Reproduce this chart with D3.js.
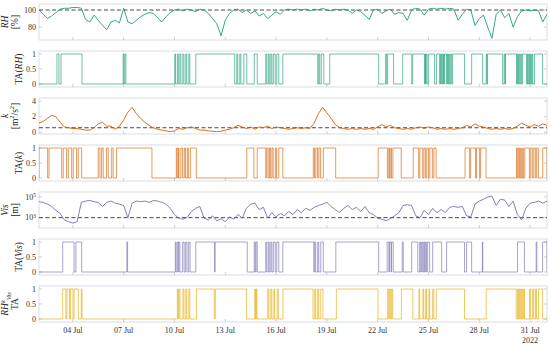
<!DOCTYPE html>
<html>
<head>
<meta charset="utf-8">
<script src="https://cdn.jsdelivr.net/npm/d3@7"></script>
<style>
  body { margin: 0; background: #fff; }
  svg { font-family: "Liberation Serif", "DejaVu Serif", serif; }
</style>
</head>
<body>
<svg id="chart" width="550" height="345"></svg>
<script>
// Series sampled every 6 hours from 02 Jul 2022 00:00
const stepHours = 6;

const rhValues = [
  100, 95, 90, 93, 97, 101, 102, 102, 103, 103, 102, 89, 86, 94, 88, 82, 77, 86, 88, 85, 102, 86, 84, 88,
  92, 95, 97, 96, 91, 86, 92, 97, 100, 101, 99, 101, 100, 98, 101, 100, 96, 90, 84, 70, 88, 96,
  100, 101, 97, 100, 96, 99, 93, 96, 90, 94, 98, 95, 100, 101, 100, 101, 100, 101, 99, 101, 100, 102,
  100, 99, 101, 100, 101, 100, 96, 100, 98, 94, 89, 100, 101, 96, 99, 101, 95,
  97, 96, 88, 100, 102, 101, 94, 101, 102, 101, 102, 101, 102, 101, 88, 95, 101, 100, 82, 90,
  94, 80, 67, 95, 100, 91, 96, 80, 92, 99, 100, 99, 100, 99, 86, 95
];

const kValues = [
  1.2, 1.4, 1.8, 2.2, 2.0, 1.3, 0.7, 0.6, 0.5, 0.5, 0.4, 0.3, 0.3, 0.6, 1.1, 1.3, 0.8, 0.8, 0.4, 0.8, 1.6, 2.6, 3.2, 2.4,
  1.8, 1.3, 0.9, 0.6, 0.4, 0.3, 0.2, 0.1, 0.2, 0.5, 0.4, 0.6, 0.7, 0.5, 0.3, 0.3, 0.2, 0.15, 0.1, 0.15, 0.3, 0.4,
  0.6, 0.9, 0.7, 0.5, 0.7, 0.4, 0.7, 0.6, 0.8, 0.5, 0.7, 0.6, 0.5, 0.4, 0.5, 0.6, 0.5, 0.6, 0.5, 1.2, 2.4, 3.2,
  2.5, 1.8, 1.0, 0.6, 0.5, 0.4, 0.5, 0.4, 0.5, 0.4, 0.5, 0.4, 0.7, 1.0, 0.7, 0.9, 0.6,
  0.5, 0.4, 0.5, 0.4, 0.6, 0.7, 0.5, 0.7, 0.6, 0.4, 0.5, 0.4, 0.5, 0.4, 0.5, 0.6, 0.9, 0.7, 1.1, 0.8,
  0.7, 0.5, 0.4, 0.5, 0.4, 0.5, 0.4, 0.5, 0.8, 1.2, 0.9, 0.7, 1.0, 0.8, 1.1, 0.9
];

const visValues = [
  35000, 30000, 20000, 12000, 5000, 2500, 600, 400, 300, 400, 30000, 40000, 45000, 35000, 30000, 12000,
  30000, 40000, 25000, 20000, 15000, 1000, 25000, 40000,
  35000, 40000, 30000, 45000, 40000, 30000, 20000, 8000, 2000, 900, 700, 1100, 4000, 8000, 12000, 900,
  600, 1500, 500, 800, 400, 1200, 700, 2000, 900, 8000, 20000, 25000, 6000, 10000, 900, 3000, 1200, 2500,
  1500, 4000, 2000, 6000, 3000, 8000, 5000, 10000, 15000, 20000, 30000, 12000, 6000,
  3000, 8000, 15000, 6000, 10000, 4000, 12000, 3000, 2000, 900, 700, 500, 800, 1500,
  3000, 15000, 18000, 15000, 1500, 1000, 5000, 2000, 8000, 3000, 6000, 3000, 10000, 12000, 10000, 12000,
  1500, 1200, 20000, 40000, 60000, 100000, 120000, 15000, 60000, 50000, 12000, 40000, 2000, 600, 8000,
  25000, 30000, 40000, 25000, 40000
];

// Threshold-alert "on" periods, as fractional July day numbers
const taRH = [
  [3.06, 3.18], [3.30, 4.54], [6.97, 7.01], [7.07, 7.13],
  [10.02, 10.06], [10.17, 10.23], [10.32, 10.38], [10.50, 10.56], [10.67, 10.73], [10.85, 10.91],
  [11.26, 13.56], [13.68, 13.74], [13.86, 13.92], [14.10, 14.27], [14.71, 14.89],
  [15.39, 15.45], [15.54, 15.60], [15.69, 15.75], [15.84, 15.95], [16.04, 16.16],
  [16.40, 18.46], [18.52, 18.58], [18.67, 18.82], [19.17, 22.06], [22.47, 22.53], [22.59, 22.94],
  [23.48, 24.01], [24.07, 24.77], [24.80, 24.83], [24.86, 24.92], [25.01, 25.36], [25.48, 25.66],
  [25.70, 25.74], [25.78, 25.84], [25.88, 25.91], [25.95, 26.07], [26.11, 26.15], [26.19, 26.25],
  [26.31, 26.37], [26.43, 27.13], [27.55, 28.20], [28.41, 28.45], [28.49, 29.38], [29.47, 29.52],
  [29.55, 30.20], [30.24, 30.28], [30.32, 30.38], [30.44, 30.50], [30.56, 30.79], [30.85, 30.89],
  [30.94, 30.98], [31.03, 31.07], [31.12, 31.16], [31.26, 31.74]
];

const taK = [
  [2.0, 2.51], [2.59, 3.34], [3.43, 3.63], [3.73, 3.93], [4.02, 4.22], [4.32, 4.52],
  [5.50, 5.60], [5.70, 5.79], [5.99, 6.09], [6.29, 6.38], [6.58, 8.67],
  [10.11, 10.16], [10.23, 10.26], [10.38, 10.48], [10.58, 10.65], [10.76, 10.82], [10.94, 11.29],
  [14.27, 14.69], [14.89, 15.39], [15.45, 15.53], [15.61, 15.68], [15.76, 15.83], [15.96, 16.03],
  [16.16, 16.40], [18.20, 18.27], [18.35, 18.45], [18.53, 18.63], [18.79, 19.52],
  [22.03, 22.58], [22.66, 22.70], [22.78, 22.81], [22.90, 23.39],
  [24.10, 24.42], [24.49, 24.66], [24.73, 24.82], [24.90, 25.01], [25.08, 25.23], [25.32, 25.45],
  [27.16, 27.43], [27.49, 27.78], [27.84, 28.02], [28.08, 28.40],
  [30.20, 30.25], [30.33, 30.37], [30.45, 30.48], [30.57, 30.60], [30.69, 30.96], [31.04, 31.13],
  [31.22, 31.31], [31.39, 31.49], [31.75, 32.0]
];

const taVis = [
  [3.40, 4.07], [4.18, 4.52], [7.19, 7.23],
  [10.05, 10.09], [10.16, 10.22], [10.26, 10.32], [10.48, 10.57], [10.66, 10.74], [10.84, 10.92],
  [11.26, 12.37], [12.40, 14.30], [14.71, 14.77], [14.82, 14.89],
  [15.39, 15.45], [15.54, 15.60], [15.69, 15.75], [15.84, 15.95], [16.04, 16.16],
  [16.40, 18.23], [18.28, 18.34], [18.46, 18.52], [18.64, 18.79], [19.53, 22.06],
  [22.56, 22.66], [22.70, 22.79], [22.82, 22.92],
  [23.45, 23.51], [24.01, 24.37], [24.48, 24.54], [24.60, 24.66], [24.72, 24.77], [24.83, 24.89],
  [24.95, 25.07], [25.25, 25.78], [26.07, 27.13], [27.25, 27.55], [28.18, 28.21], [30.26, 30.67],
  [31.36, 31.40], [31.74, 32.0]
];

const taAll = [
  [3.40, 3.59], [3.65, 3.80], [3.86, 4.01], [4.07, 4.32], [4.50, 4.54],
  [10.17, 10.21], [10.26, 10.32], [10.50, 10.56], [10.67, 10.73], [10.85, 10.91],
  [11.30, 12.35], [12.41, 14.25], [14.74, 14.79], [14.83, 14.87],
  [15.51, 15.57], [15.69, 15.75], [15.87, 15.92], [16.07, 16.13],
  [16.41, 18.18], [18.28, 18.34], [18.46, 18.52], [18.64, 18.77],
  [19.56, 22.02], [22.59, 22.65], [22.71, 22.77], [22.83, 22.89],
  [23.40, 24.08], [24.44, 24.48], [24.67, 24.72], [24.83, 24.89], [25.03, 25.07], [25.25, 25.31],
  [25.46, 27.13], [28.41, 30.18], [30.26, 30.32], [30.38, 30.44], [30.50, 30.56], [30.62, 30.67],
  [30.97, 31.03], [31.15, 31.21], [31.32, 31.38], [31.50, 31.74]
];

const rhThreshold = 100;
const kThreshold = 0.6;
const visThreshold = 1000;

const taTicks = [0, 0.5, 1];
const rhTicks = [80, 100];
const kTicks = [0, 2, 4];
const visTicks = [1e3, 1e5];

// Colours
const green = '#1b9e77', orange = '#d95f02', purple = '#7570b3', gold = '#e6ab02';

// Layout
const left = 39, right = 547;
const panelTop = 4, panelH = 36, panelStep = 47;

const svg = d3.select('#chart');

function julDate(d) {
  return new Date(new Date(2022, 6, 1).getTime() + (d - 1) * 864e5);
}

const x = d3.scaleTime().domain([julDate(2), julDate(32)]).range([left, right]);
const t0 = julDate(2).getTime();

function seriesPoints(values) {
  return values.map((v, i) => ({ t: new Date(t0 + i * stepHours * 3600e3), v }));
}

function stepPoints(intervals) {
  const pts = [{ t: julDate(2), v: 0 }];
  intervals.forEach(([a, b]) => {
    pts.push({ t: julDate(a), v: 0 }, { t: julDate(a), v: 1 },
             { t: julDate(b), v: 1 }, { t: julDate(b), v: 0 });
  });
  pts.push({ t: julDate(32), v: 0 });
  return pts;
}

const panels = [
  { data: seriesPoints(rhValues), color: green, scale: d3.scaleLinear().domain([65, 107]),
    ticks: rhTicks, threshold: rhThreshold,
    label: [[{ t: 'RH', i: true }], [{ t: '[%]' }]] },
  { data: stepPoints(taRH), color: green, scale: d3.scaleLinear().domain([-0.1, 1.1]),
    ticks: taTicks, step: true,
    label: [[{ t: 'TA(' }, { t: 'RH', i: true }, { t: ')' }]] },
  { data: seriesPoints(kValues), color: orange, scale: d3.scaleLinear().domain([-0.2, 4.4]),
    ticks: kTicks, threshold: kThreshold,
    label: [[{ t: 'k', i: true }], [{ t: '[m' }, { t: '2', sup: true }, { t: '/s' }, { t: '2', sup: true }, { t: ']' }]] },
  { data: stepPoints(taK), color: orange, scale: d3.scaleLinear().domain([-0.1, 1.1]),
    ticks: taTicks, step: true,
    label: [[{ t: 'TA(' }, { t: 'k', i: true }, { t: ')' }]] },
  { data: seriesPoints(visValues), color: purple, scale: d3.scaleLog().domain([100, 3e5]),
    ticks: visTicks, log: true, threshold: visThreshold,
    label: [[{ t: 'Vis', i: true }], [{ t: '[m]' }]] },
  { data: stepPoints(taVis), color: purple, scale: d3.scaleLinear().domain([-0.1, 1.1]),
    ticks: taTicks, step: true,
    label: [[{ t: 'TA(' }, { t: 'Vis', i: true }, { t: ')' }]] },
  { data: stepPoints(taAll), color: gold, scale: d3.scaleLinear().domain([-0.1, 1.1]),
    ticks: taTicks, step: true,
    label: [[{ t: 'RH', i: true }, { t: 'k', i: true, sup: true }, { t: 'Vis', i: true, sub: true }], [{ t: 'TA' }]] }
];

const xTicks = d3.timeDay.every(3).range(julDate(3), julDate(32));

panels.forEach((p, idx) => {
  const top = panelTop + idx * panelStep;
  const bottom = top + panelH;
  const y = p.scale.range([bottom, top]);
  const g = svg.append('g');

  const clipId = 'clip' + idx;
  svg.append('clipPath').attr('id', clipId)
    .append('rect').attr('x', left).attr('y', top).attr('width', right - left).attr('height', panelH);

  // box
  g.append('rect')
    .attr('x', left).attr('y', top).attr('width', right - left).attr('height', panelH)
    .attr('fill', 'none').attr('stroke', '#d4d4d4').attr('stroke-width', 0.8);

  // y ticks (inside, both sides)
  p.ticks.forEach(tv => {
    const yy = y(tv);
    g.append('line').attr('x1', left).attr('x2', left + 3).attr('y1', yy).attr('y2', yy)
      .attr('stroke', '#bbb').attr('stroke-width', 0.7);
    g.append('line').attr('x1', right - 3).attr('x2', right).attr('y1', yy).attr('y2', yy)
      .attr('stroke', '#bbb').attr('stroke-width', 0.7);
    const txt = g.append('text').attr('x', left - 3).attr('y', yy).attr('dy', '0.33em')
      .attr('text-anchor', 'end').attr('font-size', 8).attr('fill', '#333');
    if (p.log) {
      txt.append('tspan').text('10');
      txt.append('tspan').attr('dy', '-0.45em').attr('font-size', 5.5).text(Math.round(Math.log10(tv)));
    } else {
      txt.text(tv);
    }
  });

  // x ticks (inside, bottom)
  xTicks.forEach(d => {
    g.append('line').attr('x1', x(d)).attr('x2', x(d)).attr('y1', bottom).attr('y2', bottom - 3)
      .attr('stroke', '#bbb').attr('stroke-width', 0.7);
  });

  // threshold line
  if (p.threshold !== undefined) {
    g.append('line').attr('x1', left).attr('x2', right)
      .attr('y1', y(p.threshold)).attr('y2', y(p.threshold))
      .attr('stroke', '#333').attr('stroke-width', 0.9).attr('stroke-dasharray', '4,2.5');
  }

  // data line
  const line = d3.line().x(d => x(d.t)).y(d => y(d.v));
  g.append('path').datum(p.data)
    .attr('clip-path', `url(#${clipId})`)
    .attr('d', line)
    .attr('fill', 'none')
    .attr('stroke', p.color)
    .attr('stroke-width', 0.9)
    .attr('stroke-opacity', p.step ? 0.7 : 1);

  // y label
  const cy = (top + bottom) / 2;
  const nLines = p.label.length;
  p.label.forEach((parts, li) => {
    const lx = nLines === 1 ? 22 : (li === 0 ? 8 : 17.5);
    const txt = g.append('text')
      .attr('transform', `translate(${lx},${cy}) rotate(-90)`)
      .attr('text-anchor', 'middle').attr('font-size', 9.5).attr('fill', '#222');
    let shift = 0;
    parts.forEach(part => {
      const ts = txt.append('tspan').text(part.t);
      if (part.i) ts.attr('font-style', 'italic');
      if (part.sup) {
        ts.attr('font-size', 6.5).attr('dy', (-3.5 - shift) + 'px');
        shift = -3.5;
      } else if (part.sub) {
        ts.attr('font-size', 6.5).attr('dy', (2.5 - shift) + 'px');
        shift = 2.5;
      } else if (shift !== 0) {
        ts.attr('dy', (-shift) + 'px');
        shift = 0;
      }
    });
  });

  // x tick labels on the last panel
  if (idx === panels.length - 1) {
    xTicks.forEach(d => {
      g.append('text').attr('x', x(d)).attr('y', bottom + 11)
        .attr('text-anchor', 'middle').attr('font-size', 8).attr('fill', '#333')
        .text(d3.timeFormat('%d %b')(d));
    });
    const last = xTicks[xTicks.length - 1];
    g.append('text').attr('x', x(last)).attr('y', bottom + 21)
      .attr('text-anchor', 'middle').attr('font-size', 8).attr('fill', '#333')
      .text('2022');
  }
});
</script>
</body>
</html>
